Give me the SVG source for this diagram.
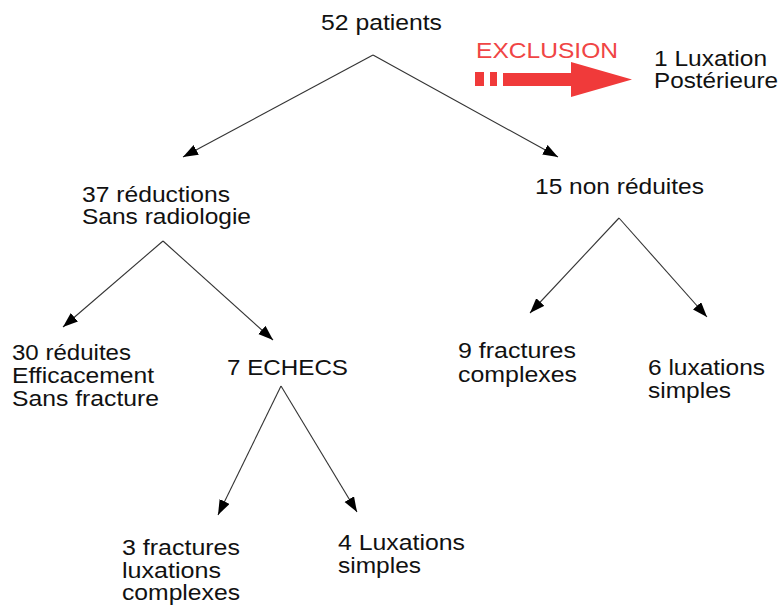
<svg xmlns="http://www.w3.org/2000/svg" width="784" height="605" viewBox="0 0 784 605">
<style>
text{font-family:"Liberation Sans",Arial,sans-serif;font-size:21.5px;fill:#111;}
.ex{fill:#f04545;}
.c line{stroke:#333;stroke-width:1.1;fill:none;}
</style>
<defs>
<marker id="ah" markerUnits="userSpaceOnUse" markerWidth="16" markerHeight="12" refX="15" refY="5.5" orient="auto">
<path d="M0,0 L15,5.5 L0,11 z" fill="#000"/>
</marker>
</defs>
<rect width="784" height="605" fill="#fff"/>
<g class="c" id="connectors">
<line x1="373" y1="55" x2="183" y2="157" marker-end="url(#ah)"/>
<line x1="373" y1="55" x2="558" y2="157" marker-end="url(#ah)"/>
<line x1="163" y1="241" x2="63" y2="327" marker-end="url(#ah)"/>
<line x1="163" y1="241" x2="273" y2="340" marker-end="url(#ah)"/>
<line x1="281" y1="386" x2="218" y2="515" marker-end="url(#ah)"/>
<line x1="281" y1="386" x2="357" y2="512" marker-end="url(#ah)"/>
<line x1="619" y1="218" x2="530" y2="313" marker-end="url(#ah)"/>
<line x1="619" y1="218" x2="707" y2="317" marker-end="url(#ah)"/>
</g>
<g id="exclusion">
<text class="ex" x="476" y="58" textLength="142" lengthAdjust="spacingAndGlyphs">EXCLUSION</text>
<rect x="475" y="72" width="9" height="14" fill="#f03a3a"/>
<rect x="490" y="72" width="7" height="14" fill="#f03a3a"/>
<path d="M503,73 H571 V62 L632,79.5 L571,97 V86 H503 z" fill="#f03a3a"/>
</g>
<g id="n-root"><text x="321" y="30" textLength="121" lengthAdjust="spacingAndGlyphs">52 patients</text></g>
<g id="n-excl">
<text x="654" y="66" textLength="113" lengthAdjust="spacingAndGlyphs">1 Luxation</text>
<text x="654" y="88" textLength="124" lengthAdjust="spacingAndGlyphs">Postérieure</text>
</g>
<g id="n-37">
<text x="82" y="202" textLength="148" lengthAdjust="spacingAndGlyphs">37 réductions</text>
<text x="82" y="224" textLength="169" lengthAdjust="spacingAndGlyphs">Sans radiologie</text>
</g>
<g id="n-15"><text x="535" y="194" textLength="169" lengthAdjust="spacingAndGlyphs">15 non réduites</text></g>
<g id="n-30">
<text x="12" y="360" textLength="119" lengthAdjust="spacingAndGlyphs">30 réduites</text>
<text x="12" y="383" textLength="142" lengthAdjust="spacingAndGlyphs">Efficacement</text>
<text x="12" y="406" textLength="147" lengthAdjust="spacingAndGlyphs">Sans fracture</text>
</g>
<g id="n-7"><text x="227" y="375" textLength="121" lengthAdjust="spacingAndGlyphs">7 ECHECS</text></g>
<g id="n-9">
<text x="458" y="358" textLength="118" lengthAdjust="spacingAndGlyphs">9 fractures</text>
<text x="458" y="382" textLength="119" lengthAdjust="spacingAndGlyphs">complexes</text>
</g>
<g id="n-6">
<text x="648" y="375" textLength="117" lengthAdjust="spacingAndGlyphs">6 luxations</text>
<text x="648" y="398" textLength="83" lengthAdjust="spacingAndGlyphs">simples</text>
</g>
<g id="n-3">
<text x="122" y="555" textLength="118" lengthAdjust="spacingAndGlyphs">3 fractures</text>
<text x="122" y="578" textLength="99" lengthAdjust="spacingAndGlyphs">luxations</text>
<text x="122" y="600" textLength="118" lengthAdjust="spacingAndGlyphs">complexes</text>
</g>
<g id="n-4">
<text x="338" y="550" textLength="127" lengthAdjust="spacingAndGlyphs">4 Luxations</text>
<text x="338" y="573" textLength="83" lengthAdjust="spacingAndGlyphs">simples</text>
</g>
</svg>
